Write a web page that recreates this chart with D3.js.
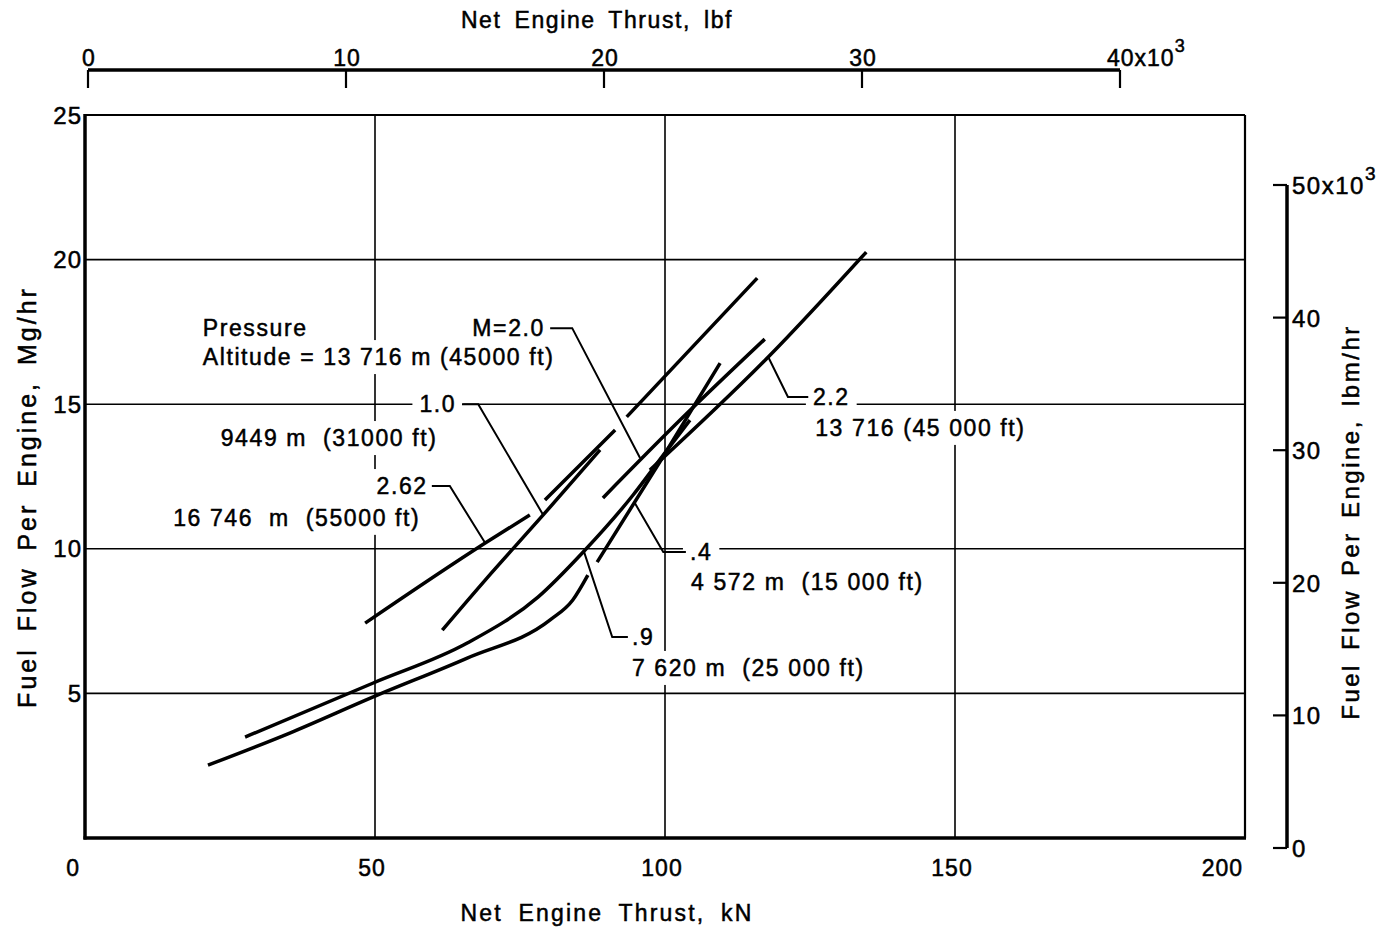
<!DOCTYPE html>
<html>
<head>
<meta charset="utf-8">
<script src="https://cdn.jsdelivr.net/npm/d3@7"></script>
<style>
body { margin: 0; background: #fff; }
text { font-family: "Liberation Sans", Arial, sans-serif; fill: #000; stroke: #000; stroke-width: 0.5px; white-space: pre; }
</style>
</head>
<body>
<script>
// axis ticks
var kNTicks = [0, 50, 100, 150, 200]
var mgTicks = [5, 10, 15, 20, 25]
var lbfTicks = [0, 10, 20, 30, 40]
var lbmTicks = [0, 10, 20, 30, 40, 50]
var gridX = [50, 100, 150]
var gridY = [5, 10, 15, 20]

// curves: [thrust kN, fuel flow Mg/hr], null = break in the drawn line
var m04_4572 = [[21.2,2.52],[35.3,3.63],[49.7,4.88],[65.9,6.22],[80.2,7.54],[84.1,8.23],[86.7,9.09],null,
                [88.3,9.54],[99.1,13.0],[109.5,16.42]]
var m09_7620 = [[27.6,3.49],[49.7,5.36],[65.9,6.74],[78.1,8.33],[85.9,9.89],[94.5,11.86],[99.7,13.24],[104.3,14.45]]
var m10_9449 = [[61.6,7.19],[69.0,8.92],[79.0,11.17],[88.8,13.42],null,[93.4,14.56],[115.9,19.36]]
var m262_16746 = [[48.3,7.43],[69.0,10.2],[76.7,11.17],null,[79.3,11.69],[91.4,14.11]]
var m20_13716 = [[89.3,11.76],[102.6,14.45],[117.2,17.25]]
var m22_13716 = [[97.4,12.72],[117.8,16.63],[134.7,20.26]]
var curves = [m04_4572, m09_7620, m10_9449, m262_16746, m20_13716, m22_13716]

// leaders from the labels to the curves
var leaders = [
  [[80.2,17.63],[84.0,17.63],[95.7,13.14]],
  [[65.0,15.0],[67.8,15.0],[79.0,11.17]],
  [[59.8,12.17],[62.9,12.17],[69.0,10.2]],
  [[103.6,9.89],[99.7,9.89],[94.8,11.58]],
  [[93.6,6.95],[90.9,6.95],[86.0,9.92]],
  [[124.7,15.25],[121.2,15.25],[117.8,16.63]]
]
// labels: x, y (data units), text, anchor
var labels = [
  [20.3,17.63,"Pressure","start"],
  [20.3,16.63,"Altitude = 13 716 m (45000 ft)","start"],
  [79.3,17.63,"M=2.0","end"],
  [64.0,15.0,"1.0","end"],
  [23.4,13.83,"9449 m  (31000 ft)","start"],
  [59.1,12.17,"2.62","end"],
  [15.2,11.07,"16 746  m  (55000 ft)","start"],
  [125.5,15.25,"2.2","start"],
  [125.9,14.18,"13 716 (45 000 ft)","start"],
  [104.3,9.89,".4","start"],
  [104.5,8.85,"4 572 m  (15 000 ft)","start"],
  [94.3,6.95,".9","start"],
  [94.3,5.88,"7 620 m  (25 000 ft)","start"]
]

var svg = d3.select("body").append("svg")
  .attr("width", 1390)
  .attr("height", 930)
  .style("background-color", "#fff")

var x = d3.scaleLinear().domain([0, 200]).range([85, 1245])
var y = d3.scaleLinear().domain([0, 25]).range([838, 115])
var xTop = d3.scaleLinear().domain([0, 40]).range([88, 1120])
var yRight = d3.scaleLinear().domain([0, 50]).range([848, 185])

// grid
svg.selectAll(".gx").data(gridX).enter().append("line")
  .attr("x1", d => x(d)).attr("x2", d => x(d))
  .attr("y1", y(25)).attr("y2", y(0))
  .attr("stroke", "#000").attr("stroke-width", 1.6)
svg.selectAll(".gy").data(gridY).enter().append("line")
  .attr("x1", x(0)).attr("x2", x(200))
  .attr("y1", d => y(d)).attr("y2", d => y(d))
  .attr("stroke", "#000").attr("stroke-width", 1.6)

// label backgrounds (cut the grid like the drawing does)
var bgLayer = svg.append("g")

// frame
svg.append("line").attr("x1", x(0)).attr("x2", x(200)).attr("y1", y(25)).attr("y2", y(25))
  .attr("stroke", "#000").attr("stroke-width", 2.2)
svg.append("line").attr("x1", x(200)).attr("x2", x(200)).attr("y1", y(25)).attr("y2", y(0))
  .attr("stroke", "#000").attr("stroke-width", 2.2)
svg.append("line").attr("x1", x(0)).attr("x2", x(0)).attr("y1", y(25) - 1).attr("y2", y(0) + 1.5)
  .attr("stroke", "#000").attr("stroke-width", 3.5)
svg.append("line").attr("x1", x(0) - 1.5).attr("x2", x(200) + 1).attr("y1", y(0)).attr("y2", y(0))
  .attr("stroke", "#000").attr("stroke-width", 3.5)

// curves
var line = d3.line().defined(d => d != null).x(d => x(d[0])).y(d => y(d[1])).curve(d3.curveMonotoneX)
svg.selectAll(".curve").data(curves).enter().append("path")
  .attr("d", line)
  .attr("fill", "none").attr("stroke", "#000").attr("stroke-width", 3.5)
  .attr("stroke-linecap", "butt")

// leaders
var lline = d3.line().x(d => x(d[0])).y(d => y(d[1]))
svg.selectAll(".leader").data(leaders).enter().append("path")
  .attr("d", lline)
  .attr("fill", "none").attr("stroke", "#000").attr("stroke-width", 2)

// labels
var lab = svg.selectAll(".lab").data(labels).enter().append("text")
  .attr("x", d => x(d[0])).attr("y", d => y(d[1]))
  .attr("text-anchor", d => d[3])
  .attr("dominant-baseline", "central")
  .attr("font-size", 23)
  .attr("letter-spacing", 1.6)
  .text(d => d[2])
lab.each(function() {
  var b = this.getBBox()
  bgLayer.append("rect")
    .attr("x", b.x - 7).attr("y", b.y - 4)
    .attr("width", b.width + 14).attr("height", b.height + 8)
    .attr("fill", "#fff")
})

// bottom axis labels
svg.selectAll(".bx").data(kNTicks).enter().append("text")
  .attr("x", d => d == 0 ? x(d) - 5 : (d == 200 ? x(d) - 2 : x(d) - 3))
  .attr("y", 868)
  .attr("text-anchor", d => (d == 0 || d == 200) ? "end" : "middle")
  .attr("dominant-baseline", "central")
  .attr("font-size", 23).attr("letter-spacing", 1)
  .text(d => d)
svg.append("text").attr("x", 607).attr("y", 913)
  .attr("text-anchor", "middle").attr("dominant-baseline", "central")
  .attr("font-size", 23).attr("letter-spacing", 2.2).attr("word-spacing", 7)
  .text("Net Engine Thrust, kN")

// left axis labels
svg.selectAll(".ly").data(mgTicks).enter().append("text")
  .attr("x", 82).attr("y", d => y(d))
  .attr("text-anchor", "end").attr("dominant-baseline", "central")
  .attr("font-size", 24).attr("letter-spacing", 1)
  .text(d => d)
svg.append("text")
  .attr("transform", "translate(27,497) rotate(-90)")
  .attr("text-anchor", "middle").attr("dominant-baseline", "central")
  .attr("font-size", 25).attr("letter-spacing", 3).attr("word-spacing", 6)
  .text("Fuel Flow Per Engine, Mg/hr")

// top axis (lbf)
svg.append("line").attr("x1", xTop(0)).attr("x2", xTop(40)).attr("y1", 70).attr("y2", 70)
  .attr("stroke", "#000").attr("stroke-width", 3.5)
svg.selectAll(".tt").data(lbfTicks).enter().append("line")
  .attr("x1", d => xTop(d)).attr("x2", d => xTop(d))
  .attr("y1", 70).attr("y2", 88)
  .attr("stroke", "#000").attr("stroke-width", 2.2)
var tl = svg.selectAll(".tl").data(lbfTicks).enter().append("text")
  .attr("x", d => d == 40 ? xTop(d) - 13 : xTop(d) + 1)
  .attr("y", 58)
  .attr("text-anchor", d => d == 40 ? "start" : "middle")
  .attr("dominant-baseline", "central")
  .attr("font-size", 23).attr("letter-spacing", 1)
tl.append("tspan").text(d => d == 40 ? d + "x10" : d)
tl.filter(d => d == 40).append("tspan").attr("dy", -12).attr("font-size", 18).text("3")
svg.append("text").attr("x", 597).attr("y", 20)
  .attr("text-anchor", "middle").attr("dominant-baseline", "central")
  .attr("font-size", 23).attr("letter-spacing", 1.6).attr("word-spacing", 5)
  .text("Net Engine Thrust, lbf")

// right axis (lbm/hr)
svg.append("line").attr("x1", 1287).attr("x2", 1287).attr("y1", yRight(50)).attr("y2", yRight(0))
  .attr("stroke", "#000").attr("stroke-width", 3.5)
svg.selectAll(".rt").data(lbmTicks).enter().append("line")
  .attr("x1", 1273).attr("x2", 1287)
  .attr("y1", d => yRight(d)).attr("y2", d => yRight(d))
  .attr("stroke", "#000").attr("stroke-width", 2.2)
var rl = svg.selectAll(".rl").data(lbmTicks).enter().append("text")
  .attr("x", 1292).attr("y", d => yRight(d))
  .attr("text-anchor", "start").attr("dominant-baseline", "central")
  .attr("font-size", 24).attr("letter-spacing", 1.5)
rl.append("tspan").text(d => d == 50 ? d + "x10" : d)
rl.filter(d => d == 50).append("tspan").attr("dy", -12).attr("font-size", 19).text("3")
svg.append("text")
  .attr("transform", "translate(1350,522) rotate(-90)")
  .attr("text-anchor", "middle").attr("dominant-baseline", "central")
  .attr("font-size", 24).attr("letter-spacing", 2.5).attr("word-spacing", 4)
  .text("Fuel Flow Per Engine, lbm/hr")
</script>
</body>
</html>
